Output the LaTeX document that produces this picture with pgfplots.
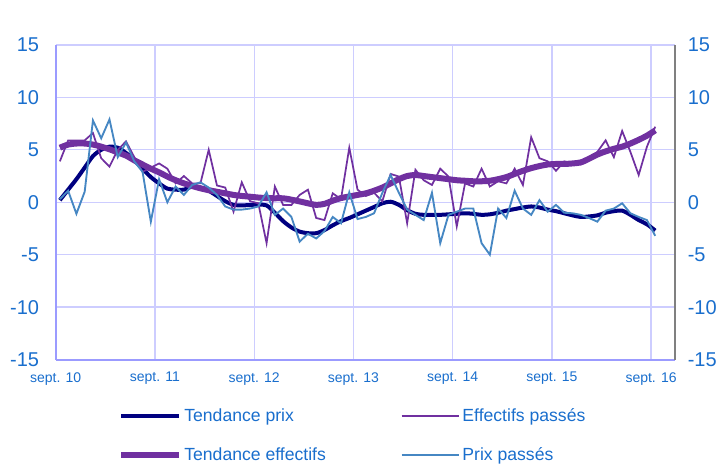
\documentclass[border=0pt]{standalone}
\usepackage{fontspec}
\setmainfont{Liberation Sans}
\usepackage{pgfplots}
\usepackage{pgfplotstable}
\pgfplotsset{compat=1.18}
\definecolor{tickc}{RGB}{25,110,205}
\definecolor{gridc}{RGB}{205,205,255}
\definecolor{axc}{RGB}{155,155,255}
\definecolor{navy}{RGB}{0,0,128}
\definecolor{purp}{RGB}{112,48,160}
\definecolor{lblue}{RGB}{70,135,195}
\pgfplotstableread{
i tp ep te pp
0 0.2 3.9 5.2 0.3
1 1.2 5.9 5.5 1.1
2 2.2 5.9 5.6 -1.1
3 3.3 5.9 5.6 1.0
4 4.4 6.6 5.5 7.8
5 5.0 4.2 5.3 6.1
6 5.3 3.4 5.05 7.9
7 5.2 5.0 4.75 4.3
8 4.7 5.8 4.45 5.7
9 4.0 4.3 4.0 3.9
10 3.2 2.9 3.6 2.9
11 2.4 3.3 3.2 -1.85
12 1.8 3.7 2.85 2.2
13 1.3 3.2 2.45 0.0
14 1.2 1.8 2.1 1.5
15 1.2 2.5 1.8 0.7
16 1.5 1.8 1.55 1.65
17 1.4 1.8 1.33 1.9
18 1.1 5.0 1.15 1.4
19 0.6 1.6 1.0 0.7
20 0.1 1.4 0.85 -0.4
21 -0.25 -0.9 0.7 -0.7
22 -0.3 1.9 0.6 -0.7
23 -0.26 0.1 0.53 -0.6
24 -0.22 -0.1 0.45 -0.4
25 -0.3 -3.9 0.4 0.95
26 -1.0 1.5 0.38 -1.2
27 -1.8 -0.26 0.38 -0.6
28 -2.4 -0.26 0.25 -1.4
29 -2.8 0.7 0.08 -3.75
30 -2.95 1.2 -0.1 -3.0
31 -2.95 -1.5 -0.25 -3.45
32 -2.65 -1.7 -0.15 -2.75
33 -2.2 0.85 0.15 -1.4
34 -1.8 0.3 0.4 -2.0
35 -1.5 5.2 0.55 0.95
36 -1.15 1.2 0.7 -1.6
37 -0.8 0.6 0.85 -1.4
38 -0.45 0.9 1.1 -1.05
39 -0.1 0.1 1.4 0.9
40 0.05 2.7 1.8 2.6
41 -0.25 2.45 2.2 0.9
42 -0.75 -2.0 2.5 -0.7
43 -1.1 3.1 2.6 -1.2
44 -1.2 2.1 2.5 -1.7
45 -1.2 1.65 2.4 0.9
46 -1.2 3.2 2.3 -3.9
47 -1.15 2.45 2.2 -1.2
48 -1.1 -2.3 2.1 -0.9
49 -1.05 1.8 2.05 -0.6
50 -1.1 1.5 2.0 -0.6
51 -1.2 3.2 2.0 -3.9
52 -1.15 1.5 2.05 -5.0
53 -1.0 2.0 2.2 -0.6
54 -0.8 1.8 2.4 -1.5
55 -0.65 3.2 2.7 1.1
56 -0.5 1.65 3.0 -0.6
57 -0.4 6.2 3.25 -1.2
58 -0.5 4.2 3.45 0.2
59 -0.7 3.9 3.6 -0.9
60 -0.85 3.0 3.65 -0.25
61 -1.05 3.9 3.65 -1.0
62 -1.25 3.7 3.7 -1.05
63 -1.4 3.6 3.8 -1.2
64 -1.35 4.2 4.15 -1.5
65 -1.25 4.8 4.55 -1.85
66 -1.0 5.9 4.85 -0.8
67 -0.85 4.3 5.1 -0.6
68 -0.8 6.8 5.3 -0.1
69 -1.2 4.8 5.6 -1.05
70 -1.7 2.6 5.95 -1.4
71 -2.1 5.3 6.35 -1.7
72 -2.7 7.2 6.85 -3.2
}\datatable
\begin{document}
\begin{tikzpicture}
\begin{axis}[
  scale only axis, width=464.5pt, height=236pt,
  xmin=-0.5, xmax=74.4, ymin=-15, ymax=15,
  xtick={-0.5,11.5,23.5,35.5,47.5,59.5,71.5},
  xticklabels={sept. 10,sept. 11,sept. 12,sept. 13,sept. 14,sept. 15,sept. 16},
  ytick={-15,-10,...,15},
  grid=major, grid style={color=gridc, line width=1pt},
  axis x line*=bottom, axis y line*=left,
  axis line style={-, color=axc, line width=1.4pt},
  major tick length=0pt,
  /pgf/number format/assume math mode=true,
  tick label style={color=tickc},
  yticklabel style={font=\fontsize{15}{15}\selectfont, xshift=-9pt},
  xticklabel style={font=\fontsize{10.5}{11}\selectfont, yshift=-6pt},
  legend columns=2,
  legend image code/.code={\draw[#1] (0pt,0pt) -- (43pt,0pt);},
  legend style={draw=none, fill=none, inner sep=0pt,
    at={(axis description cs:0.1007,-0.147)}, anchor=north west,
    font=\fontsize{13.2}{14}\selectfont, text=tickc,
    cells={anchor=west}, row sep=14pt,
    /tikz/every even column/.append style={column sep=54pt}},
]
\addplot[navy, line width=3pt, smooth] table[x=i, y=tp] {\datatable};
\addlegendentry{Tendance prix}
\addplot[purp, line width=1.3pt] table[x=i, y=ep] {\datatable};
\addlegendentry{Effectifs passés}
\addplot[purp, line width=4.5pt, smooth] table[x=i, y=te] {\datatable};
\addlegendentry{Tendance effectifs}
\addplot[lblue, line width=1.4pt] table[x=i, y=pp] {\datatable};
\addlegendentry{Prix passés}
\end{axis}
\begin{axis}[
  scale only axis, width=464.5pt, height=236pt,
  xmin=-0.5, xmax=74.4, ymin=-15, ymax=15,
  axis x line=none, axis y line*=right,
  axis line style={-, color=gray, line width=1.4pt},
  ytick={-15,-10,...,15}, major tick length=0pt,
  /pgf/number format/assume math mode=true,
  tick label style={color=tickc},
  yticklabel style={font=\fontsize{15}{15}\selectfont, xshift=6pt},
]
\end{axis}
\path (-41.8pt,-79.8pt) rectangle (502.7pt,269.7pt);
\end{tikzpicture}
\end{document}
